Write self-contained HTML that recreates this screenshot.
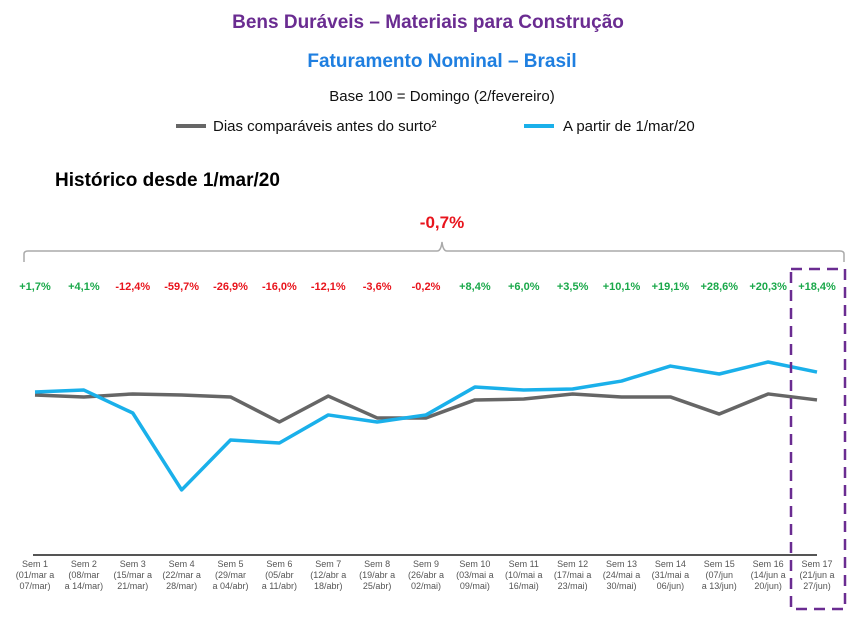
<!DOCTYPE html>
<html><head><meta charset="utf-8"><style>
body{margin:0;background:#fff;width:866px;height:630px;overflow:hidden;font-family:"Liberation Sans",sans-serif}
</style></head><body>
<svg width="866" height="630" xmlns="http://www.w3.org/2000/svg">
<text x="428" y="28" text-anchor="middle" font-size="19" font-weight="bold" fill="#6a2c91">Bens Duráveis – Materiais para Construção</text>
<text x="442" y="67" text-anchor="middle" font-size="19" font-weight="bold" fill="#1f7fe0">Faturamento Nominal – Brasil</text>
<text x="442" y="101" text-anchor="middle" font-size="15" fill="#111">Base 100 = Domingo (2/fevereiro)</text>
<g>
<line x1="176" y1="126" x2="206" y2="126" stroke="#666" stroke-width="4"/>
<text x="213" y="131" font-size="15" fill="#111">Dias comparáveis antes do surto²</text>
<line x1="524" y1="126" x2="554" y2="126" stroke="#1ab0ea" stroke-width="4"/>
<text x="563" y="131" font-size="15" fill="#111">A partir de 1/mar/20</text>
</g>
<text x="55" y="186" font-size="19" font-weight="bold" fill="#000">Histórico desde 1/mar/20</text>
<text x="442" y="228" text-anchor="middle" font-size="17" font-weight="bold" fill="#e8141c">-0,7%</text>
<path d="M24 262 V254 Q24 251 28 251 H437 Q441 251 442 242 Q443 251 447 251 H840 Q844 251 844 254 V262" fill="none" stroke="#aaa" stroke-width="1.5"/>
<g id="pcts"></g>
<line x1="33" y1="555" x2="817" y2="555" stroke="#555" stroke-width="2"/>
<g id="xt"></g>
<g id="lines"></g>
<rect x="791" y="269" width="54" height="340" fill="none" stroke="#6a2c91" stroke-width="2.5" stroke-dasharray="11,7"/>
</svg>
<script>
const weeks=["Sem 1","Sem 2","Sem 3","Sem 4","Sem 5","Sem 6","Sem 7","Sem 8","Sem 9","Sem 10","Sem 11","Sem 12","Sem 13","Sem 14","Sem 15","Sem 16","Sem 17"];
const ranges1=["(01/mar a","(08/mar","(15/mar a","(22/mar a","(29/mar","(05/abr","(12/abr a","(19/abr a","(26/abr a","(03/mai a","(10/mai a","(17/mai a","(24/mai a","(31/mai a","(07/jun","(14/jun a","(21/jun a"];
const ranges2=["07/mar)","a 14/mar)","21/mar)","28/mar)","a 04/abr)","a 11/abr)","18/abr)","25/abr)","02/mai)","09/mai)","16/mai)","23/mai)","30/mai)","06/jun)","a 13/jun)","20/jun)","27/jun)"];
const changes=["+1,7%","+4,1%","-12,4%","-59,7%","-26,9%","-16,0%","-12,1%","-3,6%","-0,2%","+8,4%","+6,0%","+3,5%","+10,1%","+19,1%","+28,6%","+20,3%","+18,4%"];
const grayVals=[100,98.7,100.7,100,98.7,82,99.3,84.7,84.7,96.7,97.3,100.7,98.7,98.7,87.3,100.7,96.7];
const blueVals=[102,103.3,88,36.7,70,68,86.7,82,86.7,105.3,103.3,104,109.3,119.3,114,122,115.3];
const NS="http://www.w3.org/2000/svg";
const xs=i=>35+i*48.875;
const ys=v=>395-(v-100)*1.5;
function mk(t,a,p){const e=document.createElementNS(NS,t);for(const k in a)e.setAttribute(k,a[k]);p.appendChild(e);return e;}
const pg=document.getElementById('pcts'),xt=document.getElementById('xt'),lg=document.getElementById('lines');
changes.forEach((c,i)=>{const t=mk('text',{x:xs(i),y:290,'text-anchor':'middle','font-size':11,'font-weight':'bold',fill:c[0]=='+'?'#1aa84a':'#e8141c'},pg);t.textContent=c;

});
weeks.forEach((w,i)=>{[w,ranges1[i],ranges2[i]].forEach((s,j)=>{const t=mk('text',{x:xs(i),y:567+j*11,'text-anchor':'middle','font-size':9,fill:'#555'},xt);t.textContent=s;

});});
function line(vals,col,name){const p=mk('polyline',{points:vals.map((v,i)=>xs(i)+','+ys(v)).join(' '),fill:'none',stroke:col,'stroke-width':3.5,'stroke-linejoin':'round'},lg);

}
line(grayVals,'#666','gray-line');
line(blueVals,'#1ab0ea','blue-line');
</script>
</body></html>
